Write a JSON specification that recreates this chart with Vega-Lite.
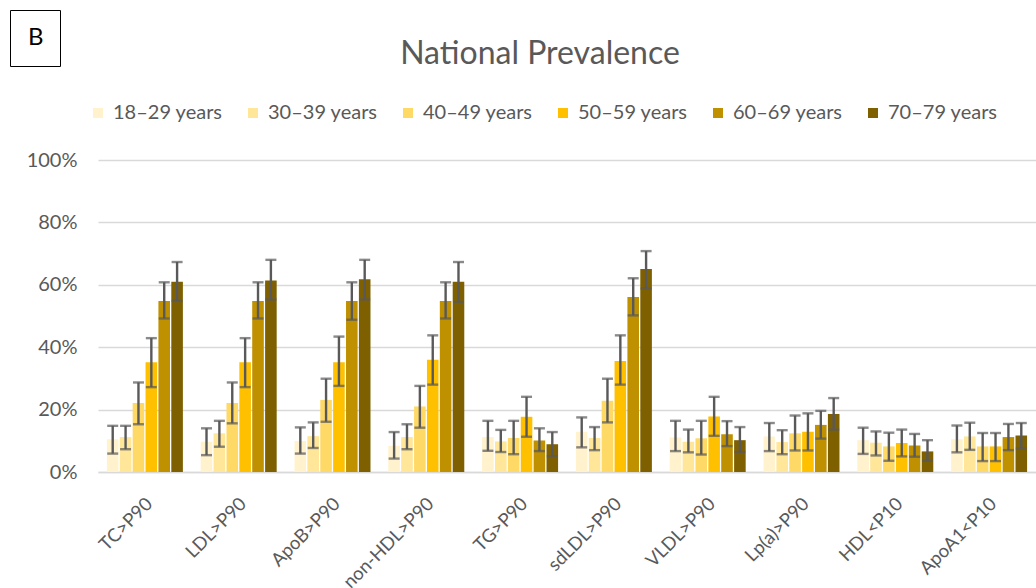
{
  "$schema": "https://vega.github.io/schema/vega-lite/v6.json",
  "autosize": {"type": "none"},
  "width": 938,
  "height": 312,
  "padding": {"left": 98, "top": 160, "right": 0, "bottom": 116},
  "background": "white",
  "config": {"font": "Lato", "view": {"stroke": null}},
  "title": {"text": "National Prevalence", "anchor": "middle", "dx": -27, "offset": -61, "fontSize": 32, "font": "Lato", "fontWeight": "normal", "color": "#595959"},
  "layer": [
    {
      "data": {"values": [
        {"m":"TC>P90","a":"18–29 years","p":10.5,"lo":5.9,"hi":14.8},
        {"m":"TC>P90","a":"30–39 years","p":11.2,"lo":7.3,"hi":14.8},
        {"m":"TC>P90","a":"40–49 years","p":22.1,"lo":15.3,"hi":28.7},
        {"m":"TC>P90","a":"50–59 years","p":35.2,"lo":27.2,"hi":42.9},
        {"m":"TC>P90","a":"60–69 years","p":54.8,"lo":49.2,"hi":60.8},
        {"m":"TC>P90","a":"70–79 years","p":61.0,"lo":54.8,"hi":67.3},
        {"m":"LDL>P90","a":"18–29 years","p":9.7,"lo":5.4,"hi":14.0},
        {"m":"LDL>P90","a":"30–39 years","p":12.4,"lo":8.1,"hi":16.4},
        {"m":"LDL>P90","a":"40–49 years","p":22.1,"lo":15.6,"hi":28.7},
        {"m":"LDL>P90","a":"50–59 years","p":35.2,"lo":27.2,"hi":42.9},
        {"m":"LDL>P90","a":"60–69 years","p":54.8,"lo":49.2,"hi":60.8},
        {"m":"LDL>P90","a":"70–79 years","p":61.4,"lo":55.3,"hi":68.0},
        {"m":"ApoB>P90","a":"18–29 years","p":9.9,"lo":5.9,"hi":14.3},
        {"m":"ApoB>P90","a":"30–39 years","p":11.5,"lo":7.7,"hi":15.9},
        {"m":"ApoB>P90","a":"40–49 years","p":23.1,"lo":16.1,"hi":29.9},
        {"m":"ApoB>P90","a":"50–59 years","p":35.2,"lo":27.6,"hi":43.4},
        {"m":"ApoB>P90","a":"60–69 years","p":54.8,"lo":48.8,"hi":60.8},
        {"m":"ApoB>P90","a":"70–79 years","p":61.8,"lo":55.3,"hi":68.0},
        {"m":"non-HDL>P90","a":"18–29 years","p":8.4,"lo":4.3,"hi":12.8},
        {"m":"non-HDL>P90","a":"30–39 years","p":11.2,"lo":7.3,"hi":15.3},
        {"m":"non-HDL>P90","a":"40–49 years","p":21.0,"lo":14.2,"hi":27.6},
        {"m":"non-HDL>P90","a":"50–59 years","p":36.0,"lo":28.0,"hi":43.8},
        {"m":"non-HDL>P90","a":"60–69 years","p":54.8,"lo":49.2,"hi":60.8},
        {"m":"non-HDL>P90","a":"70–79 years","p":61.0,"lo":54.5,"hi":67.3},
        {"m":"TG>P90","a":"18–29 years","p":11.2,"lo":6.8,"hi":16.4},
        {"m":"TG>P90","a":"30–39 years","p":9.8,"lo":6.4,"hi":13.5},
        {"m":"TG>P90","a":"40–49 years","p":10.9,"lo":5.7,"hi":16.4},
        {"m":"TG>P90","a":"50–59 years","p":17.7,"lo":11.3,"hi":24.1},
        {"m":"TG>P90","a":"60–69 years","p":10.1,"lo":6.7,"hi":14.0},
        {"m":"TG>P90","a":"70–79 years","p":8.9,"lo":5.1,"hi":12.8},
        {"m":"sdLDL>P90","a":"18–29 years","p":12.9,"lo":7.9,"hi":17.5},
        {"m":"sdLDL>P90","a":"30–39 years","p":10.9,"lo":7.0,"hi":14.4},
        {"m":"sdLDL>P90","a":"40–49 years","p":22.8,"lo":15.9,"hi":29.9},
        {"m":"sdLDL>P90","a":"50–59 years","p":35.6,"lo":28.0,"hi":43.8},
        {"m":"sdLDL>P90","a":"60–69 years","p":56.1,"lo":50.2,"hi":62.1},
        {"m":"sdLDL>P90","a":"70–79 years","p":65.1,"lo":58.8,"hi":70.8},
        {"m":"VLDL>P90","a":"18–29 years","p":11.1,"lo":6.7,"hi":16.4},
        {"m":"VLDL>P90","a":"30–39 years","p":9.7,"lo":6.3,"hi":13.6},
        {"m":"VLDL>P90","a":"40–49 years","p":10.8,"lo":5.6,"hi":16.4},
        {"m":"VLDL>P90","a":"50–59 years","p":17.8,"lo":11.6,"hi":24.1},
        {"m":"VLDL>P90","a":"60–69 years","p":12.1,"lo":8.3,"hi":16.3},
        {"m":"VLDL>P90","a":"70–79 years","p":10.2,"lo":6.4,"hi":14.4},
        {"m":"Lp(a)>P90","a":"18–29 years","p":11.4,"lo":6.7,"hi":15.7},
        {"m":"Lp(a)>P90","a":"30–39 years","p":9.6,"lo":5.7,"hi":13.4},
        {"m":"Lp(a)>P90","a":"40–49 years","p":12.4,"lo":6.9,"hi":18.1},
        {"m":"Lp(a)>P90","a":"50–59 years","p":12.9,"lo":6.9,"hi":18.8},
        {"m":"Lp(a)>P90","a":"60–69 years","p":15.1,"lo":10.7,"hi":19.6},
        {"m":"Lp(a)>P90","a":"70–79 years","p":18.6,"lo":13.6,"hi":23.7},
        {"m":"HDL<P10","a":"18–29 years","p":10.2,"lo":5.8,"hi":14.2},
        {"m":"HDL<P10","a":"30–39 years","p":9.4,"lo":5.3,"hi":13.0},
        {"m":"HDL<P10","a":"40–49 years","p":8.2,"lo":3.6,"hi":12.6},
        {"m":"HDL<P10","a":"50–59 years","p":9.3,"lo":5.0,"hi":13.6},
        {"m":"HDL<P10","a":"60–69 years","p":8.5,"lo":4.9,"hi":12.2},
        {"m":"HDL<P10","a":"70–79 years","p":6.6,"lo":3.6,"hi":10.2},
        {"m":"ApoA1<P10","a":"18–29 years","p":10.5,"lo":6.3,"hi":14.9},
        {"m":"ApoA1<P10","a":"30–39 years","p":11.4,"lo":7.1,"hi":15.8},
        {"m":"ApoA1<P10","a":"40–49 years","p":8.2,"lo":3.5,"hi":12.5},
        {"m":"ApoA1<P10","a":"50–59 years","p":8.2,"lo":3.5,"hi":12.5},
        {"m":"ApoA1<P10","a":"60–69 years","p":11.2,"lo":7.0,"hi":15.4},
        {"m":"ApoA1<P10","a":"70–79 years","p":11.7,"lo":7.5,"hi":15.7}
      ]},
      "encoding": {
        "x": {"field": "m", "type": "nominal", "sort": null,
          "scale": {"paddingInner": 0.19, "paddingOuter": 0.095},
          "axis": {"title": null, "labelAngle": -45, "labelFontSize": 18.5, "labelColor": "#595959", "labelFont": "Lato", "labelPadding": 22, "labelOffset": -2, "ticks": false, "domain": true, "domainColor": "#D9D9D9", "domainWidth": 1.3}},
        "xOffset": {"field": "a", "type": "nominal", "sort": null, "scale": {"paddingInner": 0.1}}
      },
      "layer": [
        {
          "mark": {"type": "bar"},
          "encoding": {
            "y": {"field": "p", "type": "quantitative",
              "scale": {"domain": [0, 100], "nice": false},
              "axis": {"title": null, "values": [0, 20, 40, 60, 80, 100], "labelExpr": "datum.value + '%'", "labelFontSize": 20, "labelColor": "#595959", "labelFont": "Lato", "labelPadding": 21, "ticks": false, "domain": false, "grid": true, "gridColor": "#D9D9D9", "gridWidth": 1.3}},
            "color": {"field": "a", "type": "nominal", "sort": null,
              "scale": {"range": ["#FFF2CC", "#FFE699", "#FFD966", "#FFC000", "#BF9000", "#7F6000"]},
              "legend": {"title": null, "orient": "none", "direction": "horizontal", "legendX": -10, "legendY": -57, "symbolType": "square", "symbolSize": 100, "labelFontSize": 20, "labelColor": "#595959", "labelFont": "Lato", "labelOffset": 5, "columnPadding": 20}}
          }
        },
        {
          "mark": {"type": "rule", "color": "#595959", "strokeWidth": 2.4},
          "encoding": {"y": {"field": "lo", "type": "quantitative"}, "y2": {"field": "hi"}}
        },
        {
          "mark": {"type": "tick", "color": "#595959", "thickness": 2.4, "size": 11},
          "encoding": {"y": {"field": "lo", "type": "quantitative"}}
        },
        {
          "mark": {"type": "tick", "color": "#595959", "thickness": 2.4, "size": 11},
          "encoding": {"y": {"field": "hi", "type": "quantitative"}}
        }
      ]
    },
    {
      "data": {"values": [{"panel": "B"}]},
      "mark": {"type": "point", "opacity": 0},
      "encoding": {
        "shape": {"field": "panel", "type": "nominal",
          "legend": {"title": null, "orient": "none", "legendX": -88, "legendY": -150, "strokeColor": "#000000", "padding": 16, "symbolSize": 0, "symbolOpacity": 0, "symbolStrokeWidth": 0, "labelOffset": -22, "labelFontSize": 24, "labelColor": "#000000", "labelFont": "Lato"}}
      }
    }
  ]
}
